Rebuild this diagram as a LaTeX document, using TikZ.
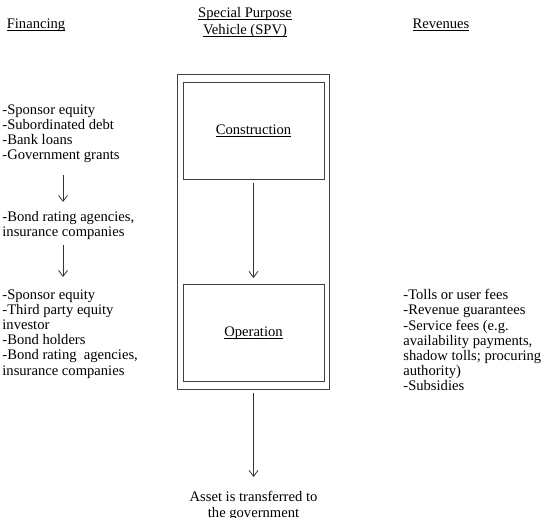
\documentclass[tikz,border=0pt]{standalone}
\usepackage{fontspec}
\setmainfont{Liberation Serif}
\usetikzlibrary{
	arrows.meta,
	positioning,
	fit,
	calc,
}
% underline at a fixed distance below the baseline
\newcommand{\ulined}[1]{\underline{\raisebox{0pt}[\height][0pt]{#1}}}
\tikzset{listtext/.style={
		% plain text, no frame
		inner sep=0pt,
		align=left,
		anchor=north west,
		% Word-like tight leading
		font=\fontsize{14.6}{15.2}\selectfont,
}}
\tikzset{headtext/.style={
		inner sep=0pt,
		align=center,
		font=\fontsize{14.6}{17}\selectfont,
}}
\tikzset{stagebox/.style={
		% The shape:
		rectangle,
		% The size:
		minimum width=141pt,minimum height=97pt,
		% The border:
		draw=black!75,line width=0.9pt,
		font=\fontsize{14.6}{15.2}\selectfont,
}}

\begin{document}
\begin{tikzpicture}[x=1pt,y=-1pt,>={Straight Barb[length=6pt,width=9pt]},line width=0.8pt,black!80,text=black]
	\useasboundingbox (0,0) rectangle (543,518);
	% column heads
	\node[headtext,anchor=base] (fin) at (36,28.5) {\ulined{Financing}};
	\node[headtext,anchor=north] (spvhead) at (245,7) {\ulined{Special Purpose}\\\ulined{Vehicle (SPV)}};
	\node[headtext,anchor=base] (rev) at (441,28.5) {\ulined{Revenues}};
	% the SPV stages
	\node[stagebox] (cons) at (253.5,130.5) {\ulined{Construction}};
	\node[stagebox] (oper) at (253.5,333) {\ulined{Operation}};
	\node[fit=(cons)(oper),inner xsep=5pt,inner ysep=7pt,draw=black!75,line width=0.9pt] (spv) {};
	\draw [->,shorten <=4pt,shorten >=6pt] (cons) -- (oper);
	\node[headtext,anchor=north,font=\fontsize{14.6}{16}\selectfont] (asset) at (253.5,491) {Asset is transferred to\\the government};
	\draw [->,shorten <=4pt,shorten >=14pt] (spv.south) -- (asset.north);
	% financing column
	\coordinate (fline) at (63,0);
	\node[listtext] (fin1) at (2,104) {-Sponsor equity\\-Subordinated debt\\-Bank loans\\-Government grants};
	\node[listtext] (fin2) at (2,211) {-Bond rating agencies,\\insurance companies};
	\node[listtext] (fin3) at (2,289) {-Sponsor equity\\-Third party equity\\investor\\-Bond holders\\-Bond rating\ \ agencies,\\insurance companies};
	\draw [->,shorten <=12pt,shorten >=9pt] (fin1.south -| fline) -- (fin2.north -| fline);
	\draw [->,shorten <=5pt,shorten >=12pt] (fin2.south -| fline) -- (fin3.north -| fline);
	% revenue column
	\node[listtext] (rev1) at (403,289) {-Tolls or user fees\\-Revenue guarantees\\-Service fees (e.g.\\availability payments,\\shadow tolls; procuring\\authority)\\-Subsidies};
\end{tikzpicture}
\end{document}
